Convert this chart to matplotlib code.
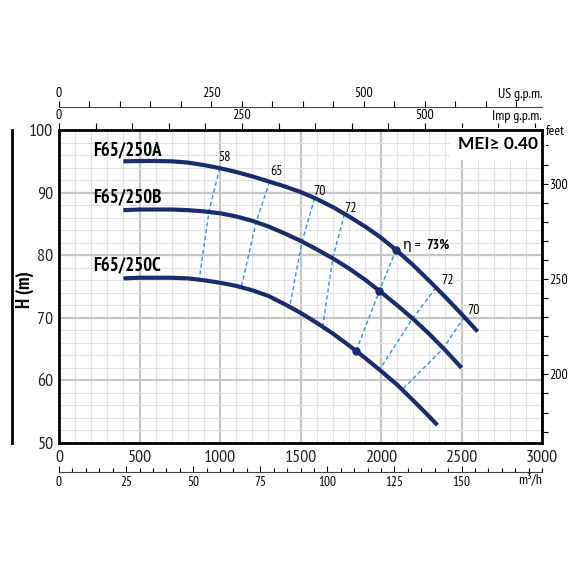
import matplotlib
matplotlib.use("Agg")
import matplotlib.pyplot as plt
from matplotlib import font_manager
from matplotlib.ticker import MultipleLocator, FixedLocator

# flow in l/min, head in m
q_a = [400, 500, 600, 700, 800, 900, 1000, 1100, 1200, 1300, 1400, 1500, 1600, 1700, 1800,
       1900, 2000, 2100, 2200, 2300, 2400, 2500, 2600]
h_a = [95.0, 95.05, 95.05, 95.0, 94.8, 94.4, 93.9, 93.3, 92.6, 91.8, 91.0, 90.1, 89.0, 87.7,
       86.2, 84.6, 82.8, 80.7, 78.4, 75.9, 73.3, 70.6, 67.8]

q_b = [400, 500, 600, 700, 800, 900, 1000, 1100, 1200, 1300, 1400, 1500, 1600, 1700, 1800,
       1900, 2000, 2100, 2200, 2300, 2400, 2500]
h_b = [87.2, 87.3, 87.3, 87.3, 87.2, 87.0, 86.7, 86.2, 85.5, 84.6, 83.5, 82.3, 80.95, 79.5,
       77.9, 76.1, 74.1, 72.0, 69.8, 67.4, 64.8, 62.0]

q_c = [400, 500, 600, 700, 800, 900, 1000, 1100, 1200, 1300, 1400, 1500, 1600, 1700, 1800,
       1900, 2000, 2100, 2200, 2300, 2350]
h_c = [76.3, 76.4, 76.4, 76.4, 76.3, 76.0, 75.6, 75.1, 74.4, 73.5, 72.2, 70.8, 69.2, 67.5,
       65.6, 63.6, 61.5, 59.3, 56.8, 54.2, 52.85]

curve_names = ["F65/250A", "F65/250B", "F65/250C"]
name_pos = [(211, 96.6), (211, 89.1), (211, 78.2)]

# iso-efficiency lines: points on A, B, C
eff_labels = ["58", "65", "70", "72", "73", "72", "70"]
eff_q = [[998, 932, 870], [1308, 1225, 1132], [1587, 1510, 1432], [1773, 1700, 1638],
         [2093, 1990, 1845], [2341, 2196, 1990], [2517, 2382, 2134]]
eff_h = [[93.9, 87.1, 76.0], [91.75, 85.35, 74.9], [89.1, 82.2, 71.7], [86.6, 79.5, 68.6],
         [80.85, 74.3, 64.7], [74.8, 69.9, 61.7], [70.1, 65.0, 58.6]]
eff_text_pos = [(1029, 95.6), (1349, 93.3), (1618, 90.25), (1808, 87.5), (2134, 81.6),
                (2413, 75.9), (2572, 71.1)]
best_q = [2093, 1990, 1845]
best_h = [80.85, 74.3, 64.7]

navy = "#1c2a6e"
dash_blue = "#3a8ee0"

names = {f.name for f in font_manager.fontManager.ttflist}
narrow = "DejaVu Sans"
for cand in ["PT Sans Narrow", "Fira Sans Condensed", "Roboto Condensed", "Archivo Narrow",
             "Liberation Sans Narrow", "Open Sans Condensed", "Roboto"]:
    if cand in names:
        narrow = cand
        break
plt.rcParams["font.family"] = [narrow, "DejaVu Sans"]

fig = plt.figure(figsize=(5.7, 5.7), dpi=100)
ax = fig.add_axes([0.1035, 0.2228, 0.8475, 0.5491])

ax.set_xlim(0, 3000)
ax.set_ylim(50, 100)
ax.xaxis.set_major_locator(MultipleLocator(500))
ax.xaxis.set_minor_locator(MultipleLocator(100))
ax.yaxis.set_major_locator(MultipleLocator(10))
ax.yaxis.set_minor_locator(MultipleLocator(2))
ax.grid(which="major", color="#c6c6c6", lw=1.6)
ax.grid(which="minor", color="#e2e2e2", lw=0.8)
ax.tick_params(which="both", length=0, labelsize=13, labelcolor="#222222")
ax.tick_params(axis="x", pad=5)
ax.tick_params(axis="y", pad=4)
for s in ax.spines.values():
    s.set_linewidth(2)
    s.set_color("black")
    s.set_zorder(6)

for q, h in zip([q_a, q_b, q_c], [h_a, h_b, h_c]):
    ax.plot(q, h, color=navy, lw=3.0, solid_capstyle="butt", solid_joinstyle="round", zorder=4)
ax.plot(best_q, best_h, "o", color=navy, ms=5, zorder=5)

for q, h in zip(eff_q, eff_h):
    ax.plot(q, h, color=dash_blue, lw=1.0, ls=(0, (3, 2)), zorder=3)

for lab, (x, y) in zip(eff_labels, eff_text_pos):
    if lab == "73":
        ax.text(x, y, "η =", fontsize=10, ha="left", va="center", zorder=5)
        ax.text(x + 145, y, "73%", fontsize=10, fontweight="bold", ha="left", va="center", zorder=5)
    else:
        ax.text(x, y, lab, fontsize=10, ha="center", va="center", zorder=5)

for name, (x, y) in zip(curve_names, name_pos):
    ax.text(x, y, name, fontsize=13.5, fontweight="bold", ha="left", va="center", zorder=5)

ax.text(2975, 97.8, "MEI≥ 0.40", family=["Lato", "DejaVu Sans"], fontsize=12.5, fontweight="bold",
        ha="right", va="center", zorder=5,
        bbox=dict(facecolor="white", edgecolor="none", boxstyle="square,pad=0.45"))

# Imp g.p.m. on the top spine
imp = ax.secondary_xaxis("top", functions=(lambda x: x / 4.546, lambda x: x * 4.546))
imp.xaxis.set_major_locator(FixedLocator([0, 250, 500]))
imp.xaxis.set_minor_locator(FixedLocator(list(range(0, 660, 50))))
imp.tick_params(which="both", direction="out", length=5, width=0.8, labelsize=10, pad=1)
imp.spines["top"].set_visible(False)

# US g.p.m. above it
us = ax.secondary_xaxis(1.0735, functions=(lambda x: x / 3.785, lambda x: x * 3.785))
us.xaxis.set_major_locator(FixedLocator([0, 250, 500]))
us.xaxis.set_minor_locator(FixedLocator(list(range(0, 800, 50))))
us.tick_params(which="both", direction="out", length=4, width=0.8, labelsize=10, pad=1)
us.spines["top"].set_linewidth(0.8)
us.spines["top"].set_color("#444444")

# m3/h below
m3h = ax.secondary_xaxis(-0.0927, functions=(lambda x: x * 0.06, lambda x: x / 0.06))
m3h.xaxis.set_major_locator(FixedLocator([0, 25, 50, 75, 100, 125, 150]))
m3h.xaxis.set_minor_locator(FixedLocator(list(range(0, 185, 5))))
m3h.tick_params(which="major", direction="in", length=4, width=0.8, labelsize=9.5, pad=3)
m3h.tick_params(which="minor", direction="in", length=3, width=0.8)
m3h.spines["bottom"].set_linewidth(0.8)
m3h.spines["bottom"].set_color("#444444")

# feet on the right
ft = ax.secondary_yaxis("right", functions=(lambda m: m / 0.3048, lambda f: f * 0.3048))
ft.yaxis.set_major_locator(FixedLocator([200, 250, 300]))
ft.yaxis.set_minor_locator(FixedLocator(list(range(170, 330, 10))))
ft.tick_params(which="both", direction="out", length=4, width=0.8, labelsize=10, pad=1)
ft.spines["right"].set_visible(False)

ax.text(1.0, 1.112, "US g.p.m.", transform=ax.transAxes, fontsize=10, ha="right", va="center")
ax.text(1.0, 1.042, "Imp g.p.m.", transform=ax.transAxes, fontsize=10, ha="right", va="center")
ax.text(1.008, 0.995, "feet", transform=ax.transAxes, fontsize=10, ha="left", va="center")
ax.text(1.0, -0.118, "m³/h", transform=ax.transAxes, fontsize=10, ha="right", va="center")

ax.text(-0.071, 0.49, "H (m)", transform=ax.transAxes, fontsize=13.5, fontweight="bold",
        rotation=90, ha="center", va="center")
ax.plot([-0.0973, -0.0973], [0, 1], transform=ax.transAxes, color="black", lw=2, clip_on=False)

fig.savefig("out.png", dpi=100)
